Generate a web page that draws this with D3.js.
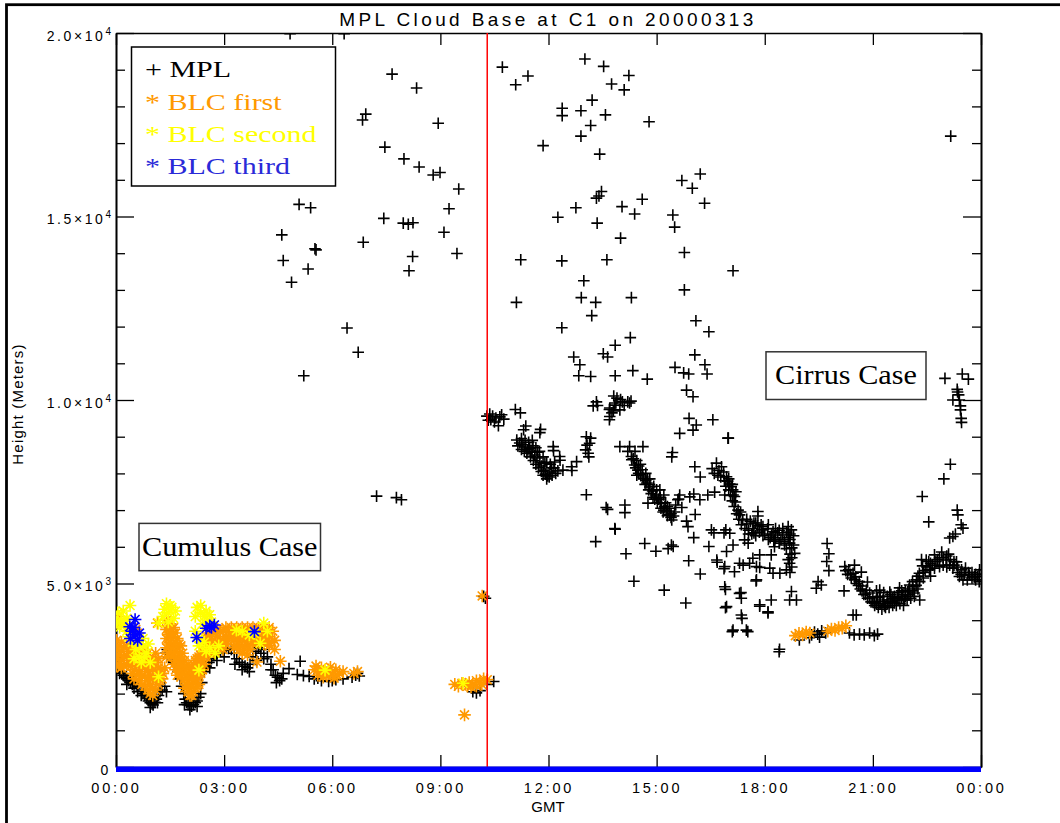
<!DOCTYPE html>
<html><head><meta charset="utf-8">
<script src="https://cdn.jsdelivr.net/npm/d3@7"></script>
<style>body{margin:0;background:#fff}svg{display:block}</style>
</head><body>
<svg id="chart" width="1060" height="823"></svg>
<script>
const TITLE = "MPL Cloud Base at C1 on 20000313";
const X_LABEL = "GMT";
const Y_LABEL = "Height (Meters)";
const X_TICKS = [0,3,6,9,12,15,18,21,24];
const X_TICK_LABELS = ["00:00","03:00","06:00","09:00","12:00","15:00","18:00","21:00","00:00"];
const Y_TICKS = [0,5000,10000,15000,20000];
const Y_TICK_LABELS = [["0",""],["5.0\u00d710","3"],["1.0\u00d710","4"],["1.5\u00d710","4"],["2.0\u00d710","4"]];
const Y_MINOR = [1000,2000,3000,4000,6000,7000,8000,9000,11000,12000,13000,14000,16000,17000,18000,19000];
const SPLIT_TIME = 10.3;
const LEGEND = [["+ MPL","#000000"],["* BLC first","#FF9900"],["* BLC second","#FFFF00"],["* BLC third","#2a2ad8"]];

// MPL cloud base [hour GMT, meters]
const mpl = [
[4.83,19980],[6.33,19980],[7.66,18880],[8.34,18500],[6.93,17790],[6.84,17630],[8.94,17540],[7.46,16890],[7.99,16570],[8.41,16350],[8.80,16130],[8.99,16200],[9.51,15750],[5.08,15330],[5.40,15240],[7.43,14950],[7.97,14820],[8.11,14790],[8.24,14830],[9.24,15210],[4.60,14500],[5.52,14120],[5.55,14090],[6.86,14300],[9.10,14570],[4.64,13800],[5.33,13570],[4.87,13210],[8.23,13910],[8.13,13520],[9.46,13990],[6.41,11960],[6.72,11300],[5.21,10660],[7.23,7380],[7.78,7340],[7.92,7280],
[10.72,19070],[11.43,18830],[11.09,18590],[13.01,19290],[13.53,19090],[14.23,18840],[13.75,18610],[14.10,18450],[13.21,18170],[12.38,17950],[12.38,17750],[12.90,17880],[13.58,17770],[13.17,17480],[12.90,17190],[14.79,17580],[11.85,16930],[13.42,16700],[16.21,16160],[15.70,15980],[15.99,15770],[16.33,15360],[13.47,15680],[13.33,15500],[13.40,15560],[12.76,15240],[12.26,14980],[14.04,15270],[14.60,15470],[14.39,15070],[13.35,14820],[15.45,15040],[15.50,14710],[14.00,14410],[15.77,14020],[11.23,13820],[12.37,13790],[13.62,13820],[12.98,13250],[15.77,13000],[11.11,12660],[12.91,12790],[13.31,12660],[14.30,12790],[17.12,13520],[13.20,12300],[16.09,12160],[16.45,11860],[12.37,11970],[14.27,11700],[13.85,11490],[13.52,11260],[13.64,11170],[12.70,11170],[12.87,10960],[12.84,10660],[13.17,10640],[13.85,10660],[14.34,10800],[14.74,10570],[16.06,11230],[16.34,10960],[15.51,10890],[15.75,10740],[15.89,10710],[16.40,10710],[15.83,10270],[16.01,10090],[15.90,9500],[16.10,9320],[16.01,9180],[16.56,9460],[15.64,9090],[15.44,8570],[16.98,8960],[23.16,17190],
[13.81,10110],[14.00,10010],[14.20,9950],[14.29,9970],[13.87,9920],[13.70,9780],[13.98,9730],[13.76,9650],[13.36,9850],[13.69,9740],[13.69,9460],[13.70,9550],[14.25,9920],[13.84,9860],[13.24,9840],[13.33,9950],[13.90,10050],[14.10,9850],[13.80,9700],[14.05,9950],
[13.05,9000],[13.14,8820],[13.10,8550],[13.07,8770],[13.12,8450],[13.17,8960],[13.03,8640],[12.14,8620],[12.32,8360],[12.65,8080],[11.76,9110],[12.13,8730],[12.31,8460],[12.64,8180],[12.78,8320],
[10.29,9560],[10.37,9620],[10.45,9560],[10.54,9510],[10.65,9540],[10.76,9480],[10.61,9300],[10.40,9460],[11.08,9740],[11.22,9650],[11.31,9190],[11.37,9290],[11.78,9200],[10.33,9450],[10.50,9400],[10.70,9600],
[11.12,8910],[11.20,8830],[11.29,8780],[11.37,8720],[11.43,8640],[11.48,8690],[11.54,8580],[11.62,8500],[11.68,8420],[11.76,8310],[11.81,8200],[11.87,8090],[11.92,7980],[11.98,7930],[12.04,8040],[12.09,8150],[11.90,8280],[11.70,8580],[11.57,8750],[12.17,8310],[12.26,8070],[12.40,8090],
[11.15,8750],[11.25,8650],[11.33,8600],[11.40,8550],[11.50,8450],[11.58,8350],[11.65,8250],[11.72,8150],[11.80,8050],[11.85,7950],[11.95,7850],[12.02,7900],[12.10,7950],[12.20,8000],[11.35,8900],[11.45,8850],[11.55,8900],[11.65,8700],[11.75,8600],[11.85,8450],[11.95,8300],[12.05,8250],[12.15,8150],[11.25,8950],
[14.25,8730],[13.98,8730],[14.62,8730],[14.30,8460],[14.31,8370],[14.39,8230],[14.48,8090],[14.56,7960],[14.64,7850],[14.73,7740],[14.81,7630],[14.89,7520],[14.98,7410],[15.06,7300],[15.14,7190],[15.23,7090],[15.28,6980],[15.36,6870],[15.42,6730],[15.47,6840],[15.09,7550],[14.81,7850],[15.20,7410],[15.53,7140],[15.61,7300],[15.70,7070],[16.03,7440],[16.21,7900],[16.06,8180],[15.42,8450],[15.64,7410],[15.59,7280],[15.92,7360],[16.20,7280],[16.42,7410],[16.61,7490],
[14.35,8400],[14.42,8150],[14.50,8000],[14.55,8250],[14.62,7900],[14.68,7700],[14.75,7850],[14.78,7550],[14.85,7450],[14.92,7650],[14.95,7300],[15.02,7200],[15.10,7350],[15.12,7050],[15.18,6950],[15.25,7200],[15.30,6850],[15.35,7050],[15.40,6900],[14.45,8350],[14.70,8000],[15.00,7550],[14.20,8600],[14.40,8600],
[14.50,8200],[14.60,8100],[14.70,7800],[14.80,7700],[14.90,7350],[15.00,7350],[15.10,7200],[15.20,7000],[15.30,7100],[15.40,6800],[15.50,6950],[14.45,7950],
[16.54,8130],[16.66,8280],[16.73,8080],[16.80,8180],[16.86,8040],[16.94,7910],[16.97,7790],[17.03,7710],[17.07,7640],[17.11,7550],[17.16,7370],[17.19,7220],[17.26,7000],[17.30,6870],[17.39,6730],[17.50,6620],[17.67,6500],[17.80,6570],[17.95,6550],[18.08,6490],[18.23,6410],[18.36,6380],[18.50,6320],[18.61,6400],[18.74,6460],[18.69,6100],[18.75,5970],[18.83,5820],[18.75,5700],[18.69,5550],[18.60,5370],[18.42,5280],[17.64,6350],[17.91,6460],[18.19,6320],[18.28,6190],
[16.60,8000],[16.70,7950],[16.78,7900],[16.88,7800],[16.92,7650],[17.00,7550],[17.05,7400],[17.10,7250],[17.15,7100],[17.22,6900],[17.28,6750],[17.35,6600],[17.45,6500],[17.55,6450],[17.70,6380],[17.85,6400],[18.00,6350],[18.15,6250],[18.30,6250],[18.45,6200],[18.55,6150],[18.65,6250],[18.80,6300],[18.60,5950],[18.70,5800],[18.65,5650],[17.00,7850],[17.10,7700],[17.20,7500],[17.33,6950],[17.60,6700],[17.75,6650],[18.40,6450],[18.70,6350],
[17.55,6350],[17.75,6300],[17.95,6300],[18.10,6200],[18.25,6150],[18.40,6100],[18.55,6050],[18.70,6200],[17.50,6750],[17.70,6650],[17.90,6600],[18.10,6600],[18.30,6500],[18.50,6500],[18.65,6550],[18.80,6050],[18.75,5450],[18.70,5300],
[16.89,7410],[17.12,7410],[16.92,6460],[17.03,6370],[17.12,6050],[16.94,5870],[17.44,6190],[17.54,6100],[17.81,6960],[17.67,5690],[17.58,5550],[17.40,5500],[17.30,5550],[17.16,5320],[17.86,5780],[17.77,5460],[18.18,5780],[18.27,6000],[18.14,5420],[18.23,5280],[17.77,5100],[16.89,5460],[16.89,4910],[17.30,4730],[17.35,4600],[16.94,4370],[18.18,4550],[17.86,4420],[18.09,4230],[18.74,4780],[18.69,4550],[18.88,4550],[17.35,4140],[17.12,3730],[17.49,3730],[18.41,3210],[16.99,8960],[13.31,6140],[13.85,6480],[14.15,5810],[14.67,6090],[14.98,5880],[15.32,5950],[15.46,6010],[14.37,5060],[15.21,4820],[15.81,4470],[15.89,5620],[16.03,6250],[16.21,5260],[16.45,6010],[16.59,6380],[16.87,6380],[16.68,5580],[16.87,5400],[16.91,4840],[16.91,4340],[17.10,3690],[17.34,4750],[17.37,4050],[17.53,3690],[17.86,4380],[18.09,4200],[18.40,3140],[17.76,5070],[17.86,5440],[13.05,7420],[13.60,7070],[14.12,7140],[14.12,6930],[14.76,7190],[13.84,6500],[15.41,6050],[15.83,6700],[15.87,6550],[16.52,6460],[16.67,5640],[13.64,7020],[16.07,6880],[17.81,6840],
[19.73,6090],[19.78,5810],[19.72,5600],[19.78,5350],[19.48,5050],[19.57,4960],[19.43,4870],[20.20,4800],[20.45,4140],[20.54,4140],
[20.22,5460],[20.33,5370],[20.45,5280],[20.52,5180],[20.62,5050],[20.71,4930],[20.82,4820],[20.91,4740],[21.00,4640],[21.13,4610],[21.28,4550],[21.41,4550],[21.55,4600],[21.68,4630],[21.83,4690],[21.96,4770],[22.11,4910],[22.21,5100],[22.29,5280],[22.38,5480],[22.48,5640],[22.57,5370],[22.71,5420],[22.85,5460],[23.03,5640],[23.13,5500],[23.22,5420],[23.40,5190],[23.54,5230],[23.68,5230],[23.82,5180],[23.91,5190],[21.05,4470],[21.32,4390],[21.60,4470],[21.88,4550],[22.15,4740],[21.19,4820],[21.47,4770],[21.74,4880],[22.02,4960],[20.49,5500],[20.68,5310],[20.85,5040],[22.71,5780],[22.91,5860],[23.32,5590],[23.46,5370],[23.57,5420],[23.96,5370],[22.30,4550],
[20.30,5250],[20.40,5150],[20.55,5000],[20.65,4850],[20.75,4700],[20.85,4600],[20.95,4500],[21.05,4400],[21.15,4350],[21.25,4300],[21.35,4350],[21.45,4350],[21.55,4400],[21.65,4400],[21.75,4450],[21.85,4400],[21.95,4550],[22.05,4600],[22.15,4650],[22.25,4850],[21.10,4800],[21.30,4750],[21.50,4700],[21.70,4750],[21.90,4800],[22.10,5050],[22.25,5200],[22.40,5300],[22.50,5450],[22.60,5550],[22.80,5650],[22.95,5500],[23.05,5450],[23.10,5800],[23.25,5600],[23.35,5300],[23.50,5100],[23.62,5100],[23.75,5300],[23.85,5100],[23.95,5050],[22.35,5650],[22.60,5200],
[20.25,5350],[20.38,5250],[20.50,5100],[20.60,4950],[20.70,4800],[20.80,4700],[20.90,4600],[21.00,4500],[21.10,4450],[21.20,4450],[21.30,4500],[21.40,4450],[21.50,4500],[21.60,4550],[21.70,4550],[21.80,4600],[21.90,4650],[22.00,4700],[22.10,4800],[22.20,4950],[22.30,5050],[22.40,5150],[22.45,5350],[22.55,5600],[22.65,5500],[22.75,5600],[22.85,5700],[22.95,5700],[23.05,5750],[23.15,5650],[23.25,5500],[23.35,5450],[23.45,5250],[23.55,5300],[23.65,5300],[23.75,5150],[23.85,5250],[23.95,5250],[21.20,4650],[21.60,4650],[22.00,4850],[21.40,4650],[21.80,4800],
[22.55,6680],[22.37,7370],[22.97,7850],[23.15,8250],[23.34,7000],[23.36,6870],[23.45,6600],[23.50,6510],[23.22,6280],[23.13,6240],[23.29,6350],[23.34,10290],[23.38,10140],[23.40,10000],[23.43,9840],[23.43,9730],[23.45,9500],[23.46,9390],[23.22,10000],[23.35,10220],[23.00,10590],[23.48,10710],[23.65,10570],
[20.48,3600],[20.76,3600],[21.04,3580],[20.35,3650],[20.63,3620],[20.91,3650],[21.13,3620],[19.38,3680],[19.47,3620],[19.58,3710],[19.69,3650],[19.30,3600],[19.52,3540],[18.96,3460],[19.24,3520],
[0.02,2900],[0.05,2700],[0.10,2800],[0.15,2600],[0.20,2500],[0.25,2450],[0.08,2950],[0.30,2400],[0.35,2350],[0.40,2300],[0.45,2250],[0.50,2320],[0.55,2280],[0.60,2200],[0.70,2100],[0.75,2000],[0.80,1950],[0.85,1880],[0.90,1800],[0.95,1750],[1.00,1720],[1.03,1690],[1.08,1760],[1.12,1850],[1.18,1950],[1.22,2050],[0.88,1950],[0.98,1850],[1.28,2100],[1.35,2200],[1.40,2050],[1.38,3100],[1.42,3200],[1.46,3000],[1.50,3150],[1.55,2950],[1.60,2850],[1.65,2800],[1.72,2600],[1.78,2400],[1.82,2200],[1.88,2000],[1.92,1850],[1.96,1750],[2.00,1700],[2.05,1680],[2.10,1660],[2.15,1700],[2.20,1750],[2.25,1800],[2.30,1900],[2.38,2300],[2.45,2600],[2.50,2750],[2.58,2850],[2.65,2950],[2.72,3050],[2.80,3100],[2.90,3150],[2.98,3180],[3.05,3250],[3.12,3230],[3.20,3200],[3.28,3100],[3.35,2950],[3.42,2850],[3.50,2800],[3.58,2750],[3.65,2700],[3.72,2800],[3.80,3000],[3.88,3150],[3.95,3250],[4.02,3100],[4.10,3200],[4.20,3000],[4.30,2800],[4.36,2650],[4.42,2500],[4.48,2450],[4.54,2350],[4.60,2400],[4.64,2550],[4.80,2680],[5.11,2880],[5.03,2520],[5.20,2490],[5.36,2470],[5.50,2400],[5.70,2350],[5.90,2330],[6.10,2380],[6.30,2400],[5.60,2420],[6.00,2350],[6.55,2450],[6.65,2500],[6.70,2550],[6.75,2480],[9.90,2050],[10.00,2020],[10.10,2080],[10.30,2250],[10.48,2330],[10.20,4650],[10.25,4600],
[2.60,2700],[2.80,2900],[3.00,3000],[3.30,2800],[3.50,2650],[3.70,2600],[3.90,2900],[4.10,2950],[4.30,2650],[4.45,2300],[0.10,2550],[0.30,2250],[0.50,2150],[0.60,2050],[0.70,1950],[1.15,1750],[1.90,1700],[2.25,1650],[2.35,2000],[0.95,1620],[2.05,1560]
];

const blcFirst = [
[0.02,3450],[0.02,3200],[0.02,2950],[0.02,2750],[0.15,3400],[0.15,3150],[0.15,2900],[0.15,2700],[0.30,3300],[0.30,3050],[0.30,2800],[0.40,3250],[0.40,3000],[0.40,2750],[0.05,4100],[0.12,3900],[0.30,3800],
[0.50,3200],[0.50,2900],[0.50,2650],[0.50,2400],[0.65,3100],[0.65,2850],[0.65,2600],[0.65,2350],[0.80,3200],[0.80,2950],[0.80,2700],[0.80,2450],[0.80,2200],[0.95,3000],[0.95,2750],[0.95,2500],[0.95,2250],[0.95,2000],[1.10,3100],[1.10,2850],[1.10,2600],[1.10,2350],[1.10,2100],[1.20,2400],[1.25,2650],[1.30,2550],
[1.40,4000],[1.40,3750],[1.40,3500],[1.40,3250],[1.40,3000],[1.50,3900],[1.50,3650],[1.50,3400],[1.50,3150],[1.60,3800],[1.60,3550],[1.60,3300],[1.60,3050],[1.60,2800],[1.70,3500],[1.70,3250],[1.70,3000],[1.70,2750],[1.70,2500],[1.80,3300],[1.80,3000],[1.80,2700],[1.80,2450],
[1.90,2900],[1.90,2650],[1.90,2400],[1.90,2150],[2.00,2800],[2.00,2550],[2.00,2300],[2.00,2050],[2.10,2700],[2.10,2450],[2.10,2200],[2.10,1950],[2.20,2900],[2.20,2650],[2.20,2400],[2.20,2150],[2.30,3000],[2.30,2750],[2.30,2500],[2.30,2250],[2.40,3150],[2.40,2900],[2.40,2650],
[2.50,3500],[2.50,3250],[2.50,3000],[2.60,3600],[2.60,3350],[2.60,3100],[2.75,3650],[2.75,3400],[2.75,3150],[2.90,3700],[2.90,3450],[2.90,3250],
[3.05,3800],[3.05,3550],[3.05,3350],[3.20,3800],[3.20,3550],[3.35,3800],[3.35,3550],[3.35,3300],[3.50,3800],[3.50,3550],[3.50,3300],[3.50,3100],[3.65,3800],[3.65,3550],[3.65,3300],[3.65,3050],[3.80,3800],[3.80,3550],[3.80,3350],[3.95,3800],[3.95,3550],[3.95,3400],[4.10,3800],[4.10,3550],[4.10,3350],[4.25,3800],[4.25,3550],[4.25,3300],[4.35,3700],[4.40,3450],[4.40,3200],
[0.08,3300],[0.08,3050],[0.08,2800],[0.22,3250],[0.22,3000],[0.22,2750],[0.35,3150],[0.35,2900],[0.45,3100],[0.45,2800],[0.45,2550],[0.58,3050],[0.58,2750],[0.58,2500],[0.72,3000],[0.72,2750],[0.72,2500],[0.72,2250],[0.88,3100],[0.88,2850],[0.88,2600],[0.88,2350],[0.88,2100],[1.02,2900],[1.02,2650],[1.02,2400],[1.02,2150],[1.02,1950],[1.18,2950],[1.18,2700],[1.18,2250],[1.28,2400],[1.35,2700],
[1.45,3850],[1.45,3600],[1.45,3350],[1.45,3100],[1.55,3750],[1.55,3500],[1.55,3250],[1.55,3000],[1.65,3650],[1.65,3400],[1.65,3150],[1.65,2900],[1.65,2650],[1.75,3350],[1.75,3100],[1.75,2850],[1.75,2600],[1.85,3100],[1.85,2800],[1.85,2550],
[1.95,2750],[1.95,2500],[1.95,2250],[2.05,2650],[2.05,2400],[2.05,2150],[2.05,1950],[2.15,2800],[2.15,2550],[2.15,2300],[2.15,2050],[2.25,2950],[2.25,2700],[2.25,2450],[2.25,2200],[2.35,3050],[2.35,2800],[2.35,2550],[2.45,3300],[2.45,3050],[2.45,2800],
[2.55,3650],[2.55,3400],[2.55,3150],[2.68,3700],[2.68,3450],[2.68,3200],[2.82,3750],[2.82,3550],[2.82,3300],[2.97,3700],[2.97,3450],[2.97,3200],
[3.12,3700],[3.12,3450],[3.27,3700],[3.27,3450],[3.27,3250],[3.42,3700],[3.42,3450],[3.42,3200],[3.57,3700],[3.57,3450],[3.57,3200],[3.72,3700],[3.72,3450],[3.72,3200],[3.87,3700],[3.87,3450],[4.02,3700],[4.02,3450],[4.17,3700],[4.17,3450],[4.32,3400],
[3.91,2860],[4.56,2880],[1.15,3920],[0.55,3750],
[5.50,2650],[5.60,2500],[5.70,2700],[5.80,2550],[5.90,2650],[6.00,2500],[6.10,2650],[6.20,2550],[6.30,2600],[5.55,2750],[5.75,2450],[6.05,2420],[6.60,2550],[6.70,2600],[5.65,2600],[5.85,2480],[6.15,2500],[5.95,2720],
[9.40,2250],[9.50,2200],[9.60,2280],[9.70,2250],[9.80,2300],[9.90,2250],[10.00,2350],[10.10,2300],[10.20,2400],[10.30,2380],[10.00,2200],[9.85,2180],[9.75,2200],[10.15,2250],
[9.67,1420],[10.16,4660],
[18.85,3580],[18.95,3640],[19.05,3600],[19.15,3680],[19.25,3650],
[19.75,3700],[19.85,3760],[19.95,3720],[20.05,3800],[20.15,3780],[20.25,3850]
];

const blcSecond = [
[0.39,4400],[0.05,4200],[0.15,4000],[0.25,3900],[0.10,3800],[0.30,3700],[0.45,3400],[0.55,3200],[0.65,3000],[0.75,3300],[0.85,3100],[0.70,2850],[1.18,3920],[1.18,2460],[1.35,4300],[1.45,4200],[1.55,4350],[1.60,4050],[1.45,3950],[2.30,2640],[2.25,4350],[2.35,4200],[2.45,4100],[2.55,4000],[2.40,3900],[2.20,3700],[2.30,3500],[2.45,3400],[2.60,3250],[2.75,3100],[2.85,3300],[3.34,3730],[3.84,3640],[4.00,3370],[4.10,3920],[5.80,2640],[9.63,2280],
[0.20,4250],[0.30,4050],[0.02,3950],[0.35,3550],[0.60,3300],[0.80,3000],[0.90,3350],[0.50,2950],[0.95,2850],[0.75,3500],[1.50,4400],[1.65,4250],[1.30,4100],[1.40,4450],[2.35,4400],[2.50,4250],[2.60,4150],[2.20,4100],[2.65,3950],[2.30,3300],[2.50,3150],[3.50,3700],[3.70,3600],[4.20,3700]
];

const blcThird = [
[0.53,4020],[0.38,3820],[0.45,3700],[0.55,3600],[0.40,3500],[0.60,3450],[0.50,3800],[0.65,3650],[2.24,3530],[2.50,3780],[2.60,3850],[2.73,3870],[2.65,3800],[3.84,3690]
];
const blcThirdZero = [[0,0],[24,0]];

const W = 1060, H = 823;
const P = {left:116, right:981, top:33, bottom:767};
const svg = d3.select("#chart");
const x = d3.scaleLinear().domain([0,24]).range([P.left,P.right]);
const y = d3.scaleLinear().domain([0,20000]).range([P.bottom,P.top]);
const SANS = "'Liberation Sans', Arial, sans-serif";
const SERIF = "'Liberation Serif', 'Times New Roman', serif";

svg.append("rect").attr("width",W).attr("height",H).attr("fill","#fff");
svg.append("rect").attr("x",6.5).attr("y",4.7).attr("width",1200).attr("height",1000)
  .attr("fill","none").attr("stroke","#000").attr("stroke-width",2.8);

svg.append("text").attr("x",548).attr("y",26).attr("text-anchor","middle")
  .attr("font-family",SANS).attr("font-size",19).attr("letter-spacing",3.4).text(TITLE);

function styleAxis(g){
  g.select(".domain").attr("stroke","#000").attr("stroke-width",1.6);
  g.selectAll(".tick line").attr("stroke","#000").attr("stroke-width",1.3);
}
const gB = svg.append("g").attr("transform",`translate(0,${P.bottom})`)
  .call(d3.axisBottom(x).tickValues(X_TICKS).tickSizeInner(-12).tickSizeOuter(0).tickFormat((d,i)=>X_TICK_LABELS[i]));
styleAxis(gB);
gB.selectAll(".tick text").attr("dy",null).attr("y",26).attr("font-family",SANS).attr("font-size",14.5)
  .attr("letter-spacing",2.8).attr("fill","#000");
const gT = svg.append("g").attr("transform",`translate(0,${P.top})`)
  .call(d3.axisTop(x).tickValues(X_TICKS).tickSizeInner(-12).tickSizeOuter(0).tickFormat(""));
styleAxis(gT);

const gL = svg.append("g").attr("transform",`translate(${P.left},0)`)
  .call(d3.axisLeft(y).tickValues(Y_TICKS).tickSizeInner(-18).tickSizeOuter(0).tickFormat(""));
styleAxis(gL);
gL.selectAll(".tick").each(function(d,i){
  const t = d3.select(this).append("text").attr("x",-5).attr("y",7).attr("text-anchor","end")
    .attr("font-family",SANS).attr("font-size",14).attr("fill","#000");
  t.append("tspan").attr("letter-spacing",2.6).text(Y_TICK_LABELS[i][0]);
  if (Y_TICK_LABELS[i][1]) t.append("tspan").attr("font-size",10).attr("dy",-6).text(Y_TICK_LABELS[i][1]);
});
const gLm = svg.append("g").attr("transform",`translate(${P.left},0)`)
  .call(d3.axisLeft(y).tickValues(Y_MINOR).tickSizeInner(-9).tickSizeOuter(0).tickFormat(""));
styleAxis(gLm);
const gR = svg.append("g").attr("transform",`translate(${P.right},0)`)
  .call(d3.axisRight(y).tickValues(Y_TICKS).tickSizeInner(-18).tickSizeOuter(0).tickFormat(""));
styleAxis(gR);
const gRm = svg.append("g").attr("transform",`translate(${P.right},0)`)
  .call(d3.axisRight(y).tickValues(Y_MINOR).tickSizeInner(-9).tickSizeOuter(0).tickFormat(""));
styleAxis(gRm);

svg.append("text").attr("x",548).attr("y",812).attr("text-anchor","middle")
  .attr("font-family",SANS).attr("font-size",15).text(X_LABEL);
svg.append("text").attr("transform","translate(23,404) rotate(-90)").attr("text-anchor","middle")
  .attr("font-family",SANS).attr("font-size",15).attr("letter-spacing",1.2).text(Y_LABEL);

// plot data
svg.append("clipPath").attr("id","clip").append("rect")
  .attr("x",P.left).attr("y",P.top).attr("width",P.right-P.left).attr("height",P.bottom-P.top);
const plot = svg.append("g").attr("clip-path","url(#clip)");
const plusPath = "M-5.8,0H5.8M0,-5.8V5.8";
const r = 6.3, q = r*Math.SQRT1_2;
const starPath = `M${-r},0H${r}M0,${-r}V${r}M${-q},${-q}L${q},${q}M${-q},${q}L${q},${-q}`;

function drawSeries(data, path, color, sw){
  plot.append("g").selectAll("path").data(data).join("path")
    .attr("transform",d=>`translate(${x(d[0])},${y(d[1])})`)
    .attr("d",path).attr("fill","none").attr("stroke",color).attr("stroke-width",sw);
}
drawSeries(mpl, plusPath, "#000", 1.6);
drawSeries(blcFirst, starPath, "#FF9900", 1.6);
drawSeries(blcSecond, starPath, "#FFFF00", 1.6);
drawSeries(blcThird, starPath, "#0000FF", 1.6);

// red split line
svg.append("line").attr("x1",x(SPLIT_TIME)).attr("x2",x(SPLIT_TIME)).attr("y1",y(0)).attr("y2",y(20000))
  .attr("stroke","#FF0000").attr("stroke-width",1.5);

// BLC third zero band
svg.append("path").datum(blcThirdZero)
  .attr("d",d3.line().x(d=>x(d[0])).y(d=>y(d[1])+2.3))
  .attr("stroke","#0000FF").attr("stroke-width",5.6).attr("fill","none");

// legend
svg.append("rect").attr("x",131.5).attr("y",47).attr("width",204).attr("height",139)
  .attr("fill","#fff").attr("stroke","#000").attr("stroke-width",1.5);
const baselines = [77,110,142,174];
LEGEND.forEach((e,i)=>{
  svg.append("text").attr("transform",`translate(145,${baselines[i]}) scale(1.25,1)`).attr("font-family",SERIF)
    .attr("font-size",24).attr("fill",e[1]).text(e[0]);
});

// annotation boxes
function note(x0,y0,w,h,base,label){
  svg.append("rect").attr("x",x0).attr("y",y0).attr("width",w).attr("height",h)
    .attr("fill","#fff").attr("stroke","#333").attr("stroke-width",1.5);
  svg.append("text").attr("transform",`translate(${x0+w/2},${base}) scale(1.12,1)`).attr("text-anchor","middle")
    .attr("font-family",SERIF).attr("font-size",27).text(label);
}
note(139,523.4,181.5,47.3,555.5,"Cumulus Case");
note(766,351.8,160,47.7,384,"Cirrus Case");
</script>
</body></html>
